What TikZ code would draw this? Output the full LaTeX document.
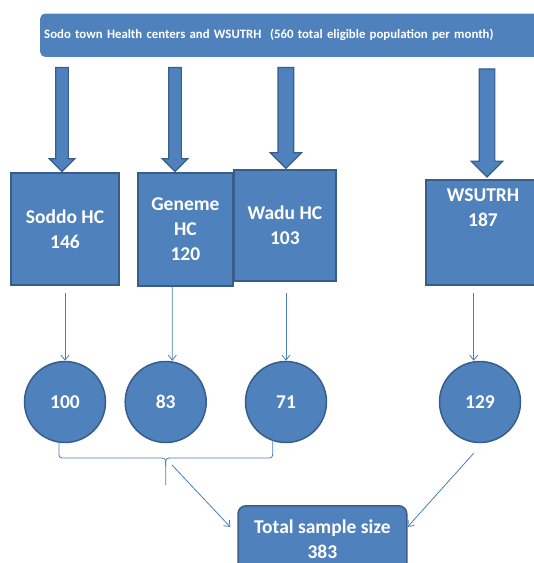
\documentclass[tikz,border=0pt]{standalone}
\usepackage{fontspec}
\setmainfont{Carlito}
\usetikzlibrary{shapes.arrows,arrows.meta}

\definecolor{boxblue}{HTML}{4F81BD}
\definecolor{edgeblue}{HTML}{385D8A}
\definecolor{lineblue}{HTML}{4A7EBB}

\tikzset{
    hcbox/.style={draw=edgeblue, fill=boxblue, line width=1.5pt, text=white,
            font=\bfseries\fontsize{19.5}{25}\selectfont, align=center, inner sep=0pt},
    numdot/.style={circle, draw=edgeblue, fill=boxblue, line width=1.5pt, text=white,
            font=\bfseries\fontsize{19.5}{25}\selectfont, minimum size=81pt, inner sep=0pt},
    fatarrow/.style={single arrow, draw=edgeblue, fill=boxblue, line width=1.2pt,
            rotate=-90, anchor=tip, inner xsep=0pt, single arrow tip angle=90},
    thinarr/.style={draw=lineblue, line width=0.8pt, -{Straight Barb[length=5pt,width=8pt]}},
}

\begin{document}
\begin{tikzpicture}[x=1pt, y=-1pt]
    \useasboundingbox (0,0) rectangle (534,563);

    % top banner
    \node (top) at (40,13.3) [anchor=north west, fill=boxblue, rounded corners=5pt,
        minimum width=500pt, minimum height=43.4pt, text width=492pt, inner xsep=4pt,
        align=left, text=white, font=\bfseries\fontsize{12.8}{15}\selectfont]
        {Sodo town Health centers and WSUTRH\ \ (560 total eligible population per month)};

    % health centers
    \node (b1) at (65,229) [hcbox, minimum width=108pt, minimum height=112pt] {Soddo HC\\146};
    \node (b2) at (185.4,229.5) [hcbox, minimum width=94.7pt, minimum height=113pt] {Geneme\\HC\\120};
    \node (b3) at (284.9,225.5) [hcbox, minimum width=101.7pt, minimum height=111pt] {Wadu HC\\103};
    \node (b4) at (483,232.5) [hcbox, minimum width=114pt, minimum height=105pt] {};
    \node (t4) at ([yshift=-28.5pt]b4.north) [hcbox, draw=none, fill=none] {WSUTRH\\187};

    % block arrows
    \node (fa1) at ([xshift=-3pt]b1.north) [fatarrow, minimum height=104pt, minimum width=24pt,
        inner ysep=5.75pt, single arrow head extend=6.25pt] {};
    \node (fa2) at ([xshift=-10.4pt]b2.north) [fatarrow, minimum height=104pt, minimum width=24pt,
        inner ysep=5.75pt, single arrow head extend=6.25pt] {};
    \node (fa3) at ([xshift=1pt]b3.north) [fatarrow, minimum height=101pt, minimum width=30pt,
        inner ysep=7.25pt, single arrow head extend=7.75pt] {};
    \node (fa4) at ([xshift=4pt,yshift=1.5pt]b4.north) [fatarrow, minimum height=108pt, minimum width=30pt,
        inner ysep=7.25pt, single arrow head extend=7.75pt] {};

    % samples
    \foreach \n/\x/\v in {1/65/100, 2/165.7/83, 3/286/71, 4/480/129} {
            \node (c\n) at (\x,402) [numdot] {\v};
        }

    \draw[thinarr] ([yshift=-7pt]b1.south) -- (c1.north);
    \draw[thinarr] ([xshift=-13.1pt]b2.south) -- ([xshift=6.6pt]c2.north);
    \draw[thinarr] ([xshift=1.1pt,yshift=-11pt]b3.south) -- (c3.north);
    \draw[thinarr] ([xshift=-9.3pt,yshift=-7pt]b4.south) -- ([xshift=-6.3pt]c4.north);

    % total
    \node (total) at (322.4,505) [hcbox, anchor=north, rounded corners=8pt,
        minimum width=168.7pt, minimum height=67pt] {Total sample size\\383};

    % brace under the health center samples
    \draw[lineblue, line width=0.8pt] (59,430) -- (59,451) .. controls (59,458) .. (65,458) -- (159,458)
        .. controls (165.7,458) .. (165.7,466) -- (165.7,485);
    \draw[lineblue, line width=0.8pt] (165.7,466) .. controls (165.7,458) .. (172,458) -- (266,458)
        .. controls (272.7,458) .. (272.7,451) -- (272.7,430);

    \coordinate (brtip) at (172,465);
    \coordinate (c4low) at ([xshift=-6.3pt,yshift=-10pt]c4.south);
    \draw[thinarr] (brtip) -- ([xshift=-7pt,yshift=-22pt]total.north west);
    \draw[thinarr] (c4low) -- ([yshift=-22pt]total.north east);
\end{tikzpicture}
\end{document}
